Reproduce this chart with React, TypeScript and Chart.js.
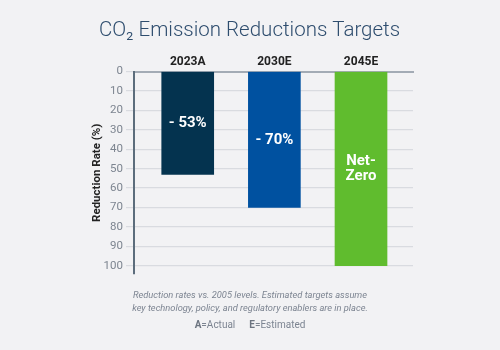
import React, { useEffect, useRef } from "react";
import { Chart, registerables } from "chart.js";

Chart.register(...registerables);

const categories = ["2023A", "2030E", "2045E"];
const reductionValues = [53, 70, 100];
const barLabels = [["- 53%"], ["- 70%"], ["Net-", "Zero"]];
const barColors = ["#04334f", "#0051a0", "#60bc2e"];
const yTicks = [0, 10, 20, 30, 40, 50, 60, 70, 80, 90, 100];
const titleText = "CO\u2082 Emission Reductions Targets";
const footnoteLines = [
  "Reduction rates vs. 2005 levels. Estimated targets assume",
  "key technology, policy, and regulatory enablers are in place.",
];
const legendParts = [
  ["A", "=Actual"],
  ["E", "=Estimated"],
];

const FONT = "Roboto, 'Noto Sans', sans-serif";

const labelPlugin = {
  id: "barLabels",
  afterDatasetsDraw(chart: any) {
    const ctx = chart.ctx;
    const meta = chart.getDatasetMeta(0);
    ctx.save();
    ctx.fillStyle = "#ffffff";
    ctx.font = `bold 15px ${FONT}`;
    ctx.textAlign = "center";
    ctx.textBaseline = "middle";
    meta.data.forEach((el: any, i: number) => {
      const lines = barLabels[i];
      const cy = (el.y + el.base) / 2;
      const lh = 15;
      lines.forEach((ln, j) => {
        ctx.fillText(ln, el.x, cy + (j - (lines.length - 1) / 2) * lh);
      });
    });
    ctx.restore();
  },
};

const footerPlugin = {
  id: "footer",
  afterDraw(chart: any) {
    const ctx = chart.ctx;
    const cx = 250;
    ctx.save();
    ctx.fillStyle = "#7c8491";
    ctx.textAlign = "center";
    ctx.textBaseline = "middle";
    ctx.font = `italic 9.3px ${FONT}`;
    footnoteLines.forEach((ln, i) => ctx.fillText(ln, cx, 296 + i * 13));
    // legend line with bold letters
    ctx.textAlign = "left";
    const gap = 14;
    const segs: { t: string; bold: boolean; gapAfter: number }[] = [];
    legendParts.forEach((p, i) => {
      segs.push({ t: p[0], bold: true, gapAfter: 0 });
      segs.push({ t: p[1], bold: false, gapAfter: i < legendParts.length - 1 ? gap : 0 });
    });
    let total = 0;
    segs.forEach((s) => {
      ctx.font = `${s.bold ? "bold " : ""}10px ${FONT}`;
      total += ctx.measureText(s.t).width + s.gapAfter;
    });
    let x = cx - total / 2;
    segs.forEach((s) => {
      ctx.font = `${s.bold ? "bold " : ""}10px ${FONT}`;
      ctx.fillStyle = s.bold ? "#6c7480" : "#7c8491";
      ctx.fillText(s.t, x, 325);
      x += ctx.measureText(s.t).width + s.gapAfter;
    });
    ctx.restore();
  },
};

export default function App() {
  const ref = useRef<HTMLCanvasElement>(null);
  useEffect(() => {
    if (!ref.current) return;
    const chart = new Chart(ref.current, {
      type: "bar",
      data: {
        datasets: [
          {
            data: reductionValues.map((v, i) => ({ x: i, y: v })),
            backgroundColor: barColors,
            borderWidth: 0,
            barThickness: 52,
          },
        ],
      },
      options: {
        responsive: false,
        animation: false,
        layout: { padding: { left: 86, right: 87, top: 0, bottom: 76 } },
        plugins: {
          legend: { display: false },
          tooltip: { enabled: false },
          title: {
            display: true,
            text: titleText,
            color: "#2e4d6e",
            font: { family: FONT, size: 20.5, weight: "300" },
            padding: { top: 19, bottom: 0 },
          },
        },
        scales: {
          x: {
            type: "linear",
            position: "top",
            min: -0.62,
            max: 2.6,
            offset: false,
            afterBuildTicks: (scale: any) => {
              scale.ticks = categories.map((_, i) => ({ value: i }));
            },
            afterFit: (scale: any) => {
              scale.height = 28;
            },
            grid: { display: false, drawTicks: false },
            border: { display: true, color: "#a3abb5", width: 2 },
            ticks: {
              autoSkip: false,
              maxRotation: 0,
              padding: 2,
              color: "#222222",
              font: { family: FONT, size: 12, weight: "bold" },
              callback: (v: any) => categories[v] ?? "",
            },
          },
          y: {
            type: "linear",
            reverse: true,
            min: 0,
            max: 104.3,
            afterBuildTicks: (scale: any) => {
              scale.ticks = yTicks.map((v) => ({ value: v }));
            },
            afterFit: (scale: any) => {
              scale.width = 48;
            },
            grid: {
              color: "#d9dbe0",
              lineWidth: 1.2,
              drawTicks: true,
              tickLength: 8,
            },
            border: { display: true, color: "#5c6d7c", width: 2 },
            ticks: {
              padding: 3,
              color: "#7d8590",
              font: { family: FONT, size: 11.5 },
            },
            title: {
              display: true,
              text: "Reduction Rate (%)",
              color: "#222222",
              font: { family: FONT, size: 11.5, weight: "bold" },
              padding: { top: 4, bottom: 0 },
            },
          },
        },
      },
      plugins: [labelPlugin, footerPlugin],
    } as any);
    return () => chart.destroy();
  }, []);
  return (
    <div
      style={{
        position: "fixed",
        left: 0,
        top: 0,
        width: 500,
        height: 350,
        background: "#f2f2f4",
      }}
    >
      <canvas ref={ref} width={500} height={350} style={{ display: "block" }} />
    </div>
  );
}
